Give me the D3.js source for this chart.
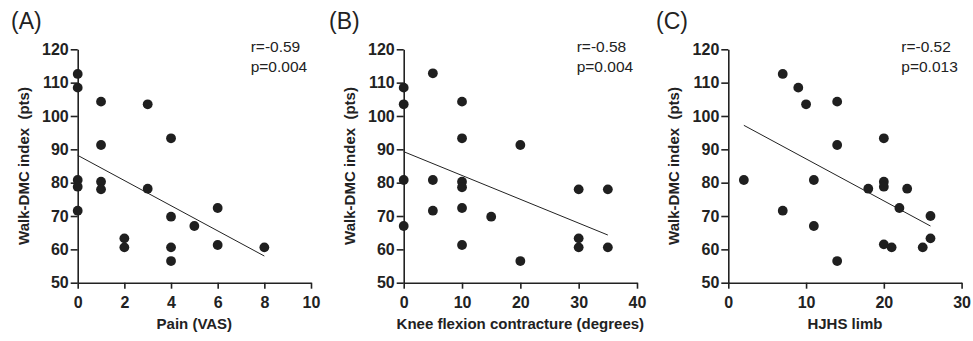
<!DOCTYPE html>
<html>
<head>
<meta charset="utf-8">
<script src="https://cdn.jsdelivr.net/npm/d3@7"></script>
<style>
  body { margin: 0; background: #fff; }
  svg { display: block; font-family: "Liberation Sans", Arial, sans-serif; }
  .axis path, .axis line { stroke: #222; stroke-width: 1.6px; }
  .axis text { font-size: 16px; font-weight: bold; fill: #222; }
</style>
</head>
<body>
<div id="chart"></div>
<script>
// y axis shared by all three panels
const yTicks = [50, 60, 70, 80, 90, 100, 110, 120]
const yTitle = 'Walk-DMC index  (pts)'

// panel A: pain
const painX = [0, 0, 0, 0, 0, 1, 1, 1, 1, 2, 2, 3, 3, 4, 4, 4, 4, 5, 6, 6, 8]
const painY = [112.6, 108.5, 80.8, 78.8, 71.6, 104.3, 91.3, 80.3, 78.0, 63.3, 60.6, 103.5, 78.2, 93.3, 69.8, 60.6, 56.5, 67.0, 72.4, 61.3, 60.6]
const painTicks = [0, 2, 4, 6, 8, 10]
const painFit = [[0, 88.2], [8, 58.0]]
const painStats = ['r=-0.59', 'p=0.004']

// panel B: knee flexion contracture
const kneeX = [0, 0, 0, 0, 5, 5, 5, 10, 10, 10, 10, 10, 10, 15, 20, 20, 30, 30, 30, 35, 35]
const kneeY = [108.5, 103.5, 80.8, 67.0, 112.8, 80.8, 71.6, 104.3, 93.3, 80.3, 78.6, 72.4, 61.3, 69.8, 91.3, 56.5, 78.0, 63.3, 60.6, 78.0, 60.6]
const kneeTicks = [0, 10, 20, 30, 40]
const kneeFit = [[0, 89.3], [35, 64.3]]
const kneeStats = ['r=-0.58', 'p=0.004']

// panel C: HJHS limb
const hjhsX = [2, 7, 7, 9, 10, 11, 11, 14, 14, 14, 18, 20, 20, 20, 20, 21, 22, 23, 25, 26, 26]
const hjhsY = [80.8, 112.6, 71.6, 108.5, 103.5, 80.8, 67.0, 104.3, 91.3, 56.5, 78.2, 93.3, 80.3, 78.8, 61.5, 60.6, 72.4, 78.2, 60.6, 70.0, 63.3]
const hjhsTicks = [0, 10, 20, 30]
const hjhsFit = [[2, 97.2], [26, 67.0]]
const hjhsStats = ['r=-0.52', 'p=0.013']

const panels = [
    { tag: '(A)', xs: painX, ys: painY, ticks: painTicks, fit: painFit, stats: painStats, title: 'Pain (VAS)', left: 77.7, tagX: 11 },
    { tag: '(B)', xs: kneeX, ys: kneeY, ticks: kneeTicks, fit: kneeFit, stats: kneeStats, title: 'Knee flexion contracture (degrees)', left: 403.7, tagX: 329 },
    { tag: '(C)', xs: hjhsX, ys: hjhsY, ticks: hjhsTicks, fit: hjhsFit, stats: hjhsStats, title: 'HJHS limb', left: 728.3, tagX: 656 }
]

const svgWidth = 973
const svgHeight = 341
const plotTop = 49.3
const plotBottom = 282.7
const plotW = 233.3
const radius = 4.9

const svg = d3.select('#chart')
    .append('svg')
    .attr('width', svgWidth)
    .attr('height', svgHeight)

const yScale = d3.scaleLinear()
    .domain([50, 120])
    .range([plotBottom, plotTop])

for (let p of panels) {
    const xScale = d3.scaleLinear()
        .domain(d3.extent(p.ticks))
        .range([p.left, p.left + plotW])

    // panel letter
    svg.append('text')
        .text(p.tag)
        .attr('x', p.tagX)
        .attr('y', 29)
        .attr('font-size', 23)
        .attr('fill', '#222')

    // axes
    svg.append('g')
        .attr('class', 'axis')
        .attr('transform', `translate(0,${plotBottom})`)
        .call(d3.axisBottom(xScale).tickValues(p.ticks).tickSize(6).tickPadding(8).tickSizeOuter(0))

    svg.append('g')
        .attr('class', 'axis')
        .attr('transform', `translate(${p.left},0)`)
        .call(d3.axisLeft(yScale).tickValues(yTicks).tickSize(7).tickPadding(2).tickSizeOuter(0))

    // axis titles
    svg.append('text')
        .text(p.title)
        .attr('x', p.left + plotW / 2)
        .attr('y', 329)
        .attr('text-anchor', 'middle')
        .attr('font-size', 15)
        .attr('font-weight', 'bold')
        .attr('fill', '#222')

    svg.append('text')
        .text(yTitle)
        .style('white-space', 'pre')
        .attr('text-anchor', 'middle')
        .attr('font-size', 15)
        .attr('font-weight', 'bold')
        .attr('fill', '#222')
        .attr('transform', `translate(${p.left - 49},${(plotTop + plotBottom) / 2}) rotate(-90)`)

    // fitted line
    svg.append('line')
        .attr('x1', xScale(p.fit[0][0]))
        .attr('y1', yScale(p.fit[0][1]))
        .attr('x2', xScale(p.fit[1][0]))
        .attr('y2', yScale(p.fit[1][1]))
        .attr('stroke', '#222')
        .attr('stroke-width', 1)

    // points
    svg.append('g')
        .selectAll('circle')
        .data(p.xs.map((x, i) => [x, p.ys[i]]))
        .join('circle')
        .attr('cx', d => xScale(d[0]))
        .attr('cy', d => yScale(d[1]))
        .attr('r', radius)
        .attr('fill', '#1f1f1f')

    // correlation text
    svg.append('g')
        .selectAll('text')
        .data(p.stats)
        .join('text')
        .text(d => d)
        .attr('x', p.left + 173)
        .attr('y', (d, i) => 52 + i * 20)
        .attr('font-size', 15.5)
        .attr('fill', '#222')
}
</script>
</body>
</html>
